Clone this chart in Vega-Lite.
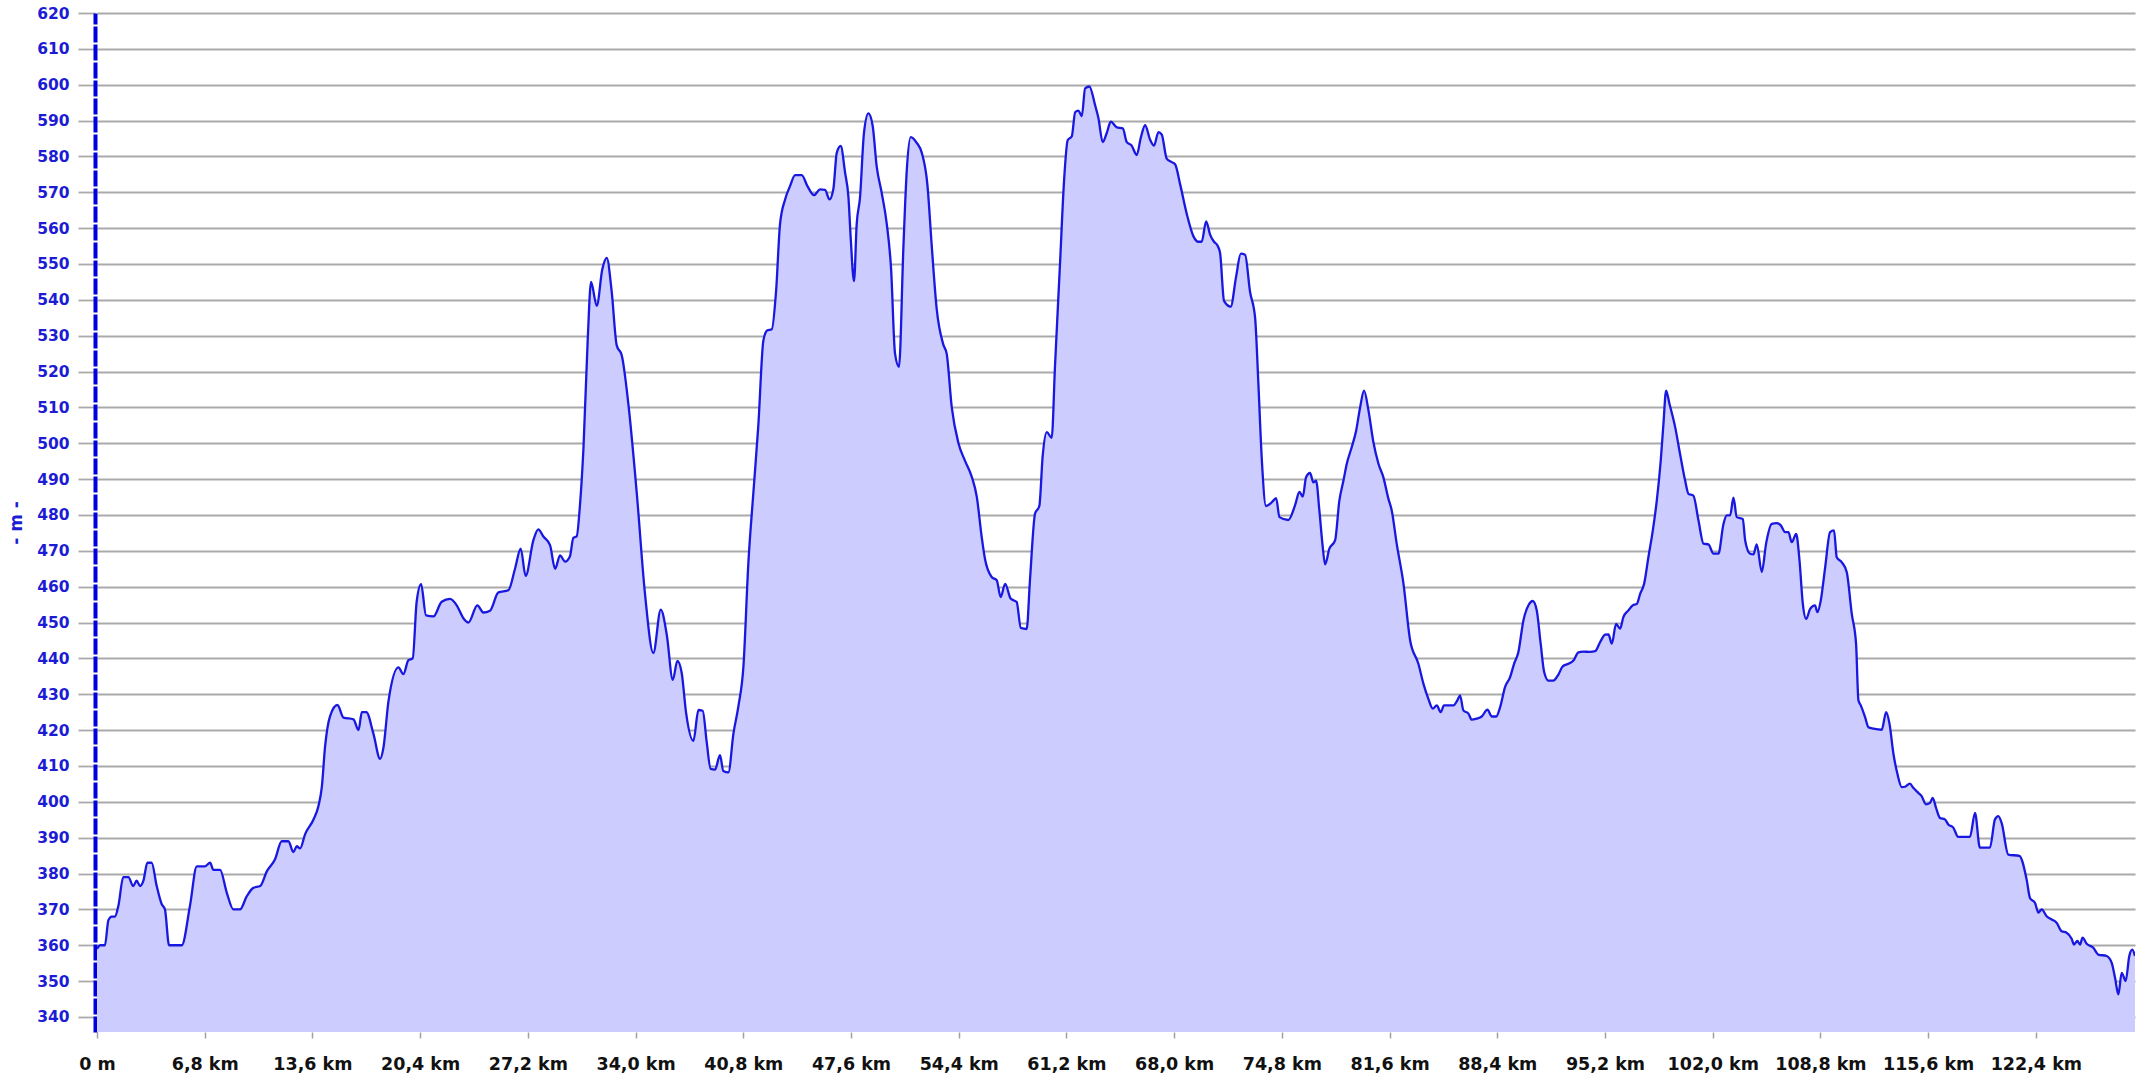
{
  "$schema": "https://vega.github.io/schema/vega-lite/v6.json",
  "autosize": {"type": "none"},
  "padding": {"left": 97, "top": 13, "right": 11, "bottom": 45},
  "width": 2038,
  "height": 1019,
  "background": "#ffffff",
  "config": {"view": {"stroke": null}},
  "data": {"values": [
    {"km":0,"m":359},{"km":0.2,"m":360},{"km":0.5,"m":360},{"km":0.72,"m":367},{"km":0.93,"m":368},{"km":1.14,"m":368},{"km":1.35,"m":371},{"km":1.66,"m":379},{"km":1.98,"m":379},{"km":2.29,"m":376.5},{"km":2.5,"m":378},{"km":2.72,"m":376.5},{"km":2.93,"m":378},{"km":3.18,"m":383},{"km":3.45,"m":383},{"km":3.77,"m":376.5},{"km":4.08,"m":371.5},{"km":4.29,"m":370},{"km":4.55,"m":360},{"km":5.35,"m":360},{"km":5.87,"m":371},{"km":6.3,"m":382},{"km":6.82,"m":382},{"km":7.14,"m":383},{"km":7.35,"m":381},{"km":7.77,"m":381},{"km":8.19,"m":374.7},{"km":8.61,"m":370},{"km":9.03,"m":370},{"km":9.45,"m":373.6},{"km":9.87,"m":376},{"km":10.3,"m":376.5},{"km":10.72,"m":380.6},{"km":11.24,"m":384},{"km":11.66,"m":389},{"km":12.08,"m":389},{"km":12.4,"m":386},{"km":12.61,"m":387.6},{"km":12.82,"m":387},{"km":13.14,"m":391},{"km":13.66,"m":395},{"km":13.98,"m":398.8},{"km":14.19,"m":404},{"km":14.4,"m":415.5},{"km":14.72,"m":424},{"km":15.18,"m":427},{"km":15.56,"m":423.5},{"km":16.19,"m":423},{"km":16.51,"m":420},{"km":16.72,"m":425},{"km":17.0,"m":425},{"km":17.45,"m":419},{"km":17.87,"m":412},{"km":18.08,"m":415},{"km":18.4,"m":428},{"km":19.03,"m":437.5},{"km":19.34,"m":435.6},{"km":19.66,"m":439.5},
    {"km":19.93,"m":440},{"km":20.18,"m":455.8},{"km":20.46,"m":460.7},{"km":20.77,"m":452},{"km":21.24,"m":451.7},{"km":21.76,"m":455.8},{"km":22.29,"m":456.6},{"km":22.71,"m":454.8},{"km":23.13,"m":451.2},{"km":23.45,"m":450},{"km":24.01,"m":454.8},{"km":24.39,"m":452.8},{"km":24.81,"m":453.3},{"km":25.34,"m":458.4},{"km":25.97,"m":459},{"km":26.39,"m":465},{"km":26.75,"m":470.6},{"km":27.06,"m":463},{"km":27.55,"m":473},{"km":27.86,"m":476},{"km":28.18,"m":474},{"km":28.6,"m":471.6},{"km":28.92,"m":465},{"km":29.23,"m":468.7},{"km":29.55,"m":467},{"km":29.86,"m":468.5},{"km":30.07,"m":473.6},{"km":30.28,"m":474},{"km":30.5,"m":483.3},{"km":30.71,"m":498.6},{"km":30.98,"m":529},{"km":31.19,"m":545},{"km":31.55,"m":538.3},{"km":31.9,"m":548.5},{"km":32.18,"m":551.7},{"km":32.49,"m":542.4},{"km":32.81,"m":527.3},{"km":33.13,"m":524.5},{"km":33.55,"m":510.8},{"km":34.07,"m":486.4},{"km":34.6,"m":457.8},{"km":35.12,"m":441.5},{"km":35.59,"m":453.6},{"km":35.97,"m":446.6},{"km":36.35,"m":434},{"km":36.64,"m":439.3},{"km":36.91,"m":436},{"km":37.19,"m":424.8},{"km":37.65,"m":417},{"km":37.97,"m":425.6},{"km":38.24,"m":425.4},
    {"km":38.49,"m":416.7},{"km":38.74,"m":409.2},{"km":39.02,"m":409},{"km":39.33,"m":413},{"km":39.54,"m":408.6},{"km":39.86,"m":408.2},{"km":40.18,"m":419.1},{"km":40.49,"m":426.6},{"km":40.81,"m":437.8},{"km":41.12,"m":466.5},{"km":41.44,"m":486.4},{"km":41.75,"m":505},{"km":42.07,"m":528.7},{"km":42.32,"m":531.5},{"km":42.6,"m":531.8},{"km":42.87,"m":542.4},{"km":43.12,"m":561.1},{"km":43.44,"m":568},{"km":43.75,"m":571.7},{"km":44.07,"m":574.8},{"km":44.49,"m":574.8},{"km":44.85,"m":571.7},{"km":45.27,"m":569.2},{"km":45.65,"m":570.8},{"km":45.96,"m":570.7},{"km":46.24,"m":568},{"km":46.49,"m":571},{"km":46.7,"m":581},{"km":46.95,"m":582.9},{"km":47.23,"m":575.4},{"km":47.44,"m":568.6},{"km":47.58,"m":557.4},{"km":47.79,"m":545.2},{"km":47.96,"m":561.1},{"km":48.17,"m":568.6},{"km":48.42,"m":586.6},{"km":48.7,"m":592},{"km":48.97,"m":588.5},{"km":49.22,"m":577.3},{"km":49.54,"m":569.8},{"km":49.86,"m":561.1},{"km":50.13,"m":548.7},{"km":50.38,"m":525},{"km":50.63,"m":521.3},{"km":50.91,"m":554.9},{"km":51.12,"m":576},{"km":51.37,"m":585.4},{"km":51.75,"m":583.8},{"km":52.07,"m":581},{"km":52.42,"m":572.3},{"km":52.7,"m":554.9},{"km":53.01,"m":537.5},{"km":53.43,"m":527.5},{"km":53.64,"m":525},{"km":53.96,"m":510.1},{"km":54.38,"m":500.1},{"km":54.8,"m":495.1},{"km":55.22,"m":490.7},{"km":55.54,"m":485.1},{"km":55.85,"m":473.9},{"km":56.06,"m":467.7},{"km":56.48,"m":462.7},{"km":56.8,"m":461.8},{"km":57.05,"m":457.1},{"km":57.33,"m":460.8},{"km":57.68,"m":456.7},
    {"km":58.06,"m":455.7},{"km":58.32,"m":448.5},{"km":58.69,"m":448.2},{"km":58.9,"m":461.9},{"km":59.22,"m":480.4},{"km":59.49,"m":482.5},{"km":59.7,"m":496.4},{"km":59.96,"m":503.1},{"km":60.27,"m":501.5},{"km":60.48,"m":521.6},{"km":60.8,"m":550.5},{"km":61.05,"m":573.2},{"km":61.28,"m":584.5},{"km":61.54,"m":585.6},{"km":61.75,"m":592.3},{"km":61.96,"m":592.8},{"km":62.17,"m":591.2},{"km":62.38,"m":599},{"km":62.65,"m":599.5},{"km":63.01,"m":594.3},{"km":63.22,"m":590.7},{"km":63.49,"m":584},{"km":63.75,"m":586.6},{"km":64.0,"m":589.7},{"km":64.38,"m":588.1},{"km":64.76,"m":587.8},{"km":65.01,"m":584},{"km":65.32,"m":583},{"km":65.64,"m":580.4},{"km":65.89,"m":585.1},{"km":66.17,"m":588.7},{"km":66.48,"m":584.7},{"km":66.73,"m":583},{"km":67.01,"m":586.8},{"km":67.22,"m":586.1},{"km":67.53,"m":579.4},{"km":67.85,"m":578.4},{"km":68.06,"m":577.8},{"km":68.38,"m":572.2},{"km":68.8,"m":563.9},{"km":69.22,"m":557.7},{"km":69.53,"m":556.2},{"km":69.74,"m":556.2},{"km":70.02,"m":561.9},{"km":70.27,"m":558.2},{"km":70.52,"m":556.2},{"km":70.73,"m":555.2},{"km":70.9,"m":553.1},{"km":71.15,"m":539.7},{"km":71.57,"m":538.1},{"km":71.91,"m":546.4},{"km":72.21,"m":552.9},{"km":72.48,"m":552.6},{"km":72.79,"m":542.3},{"km":73.11,"m":535.1},{"km":73.32,"m":516.5},{"km":73.53,"m":495.9},{"km":73.8,"m":482.5},{"km":74.16,"m":483.5},{"km":74.44,"m":484.7},{"km":74.65,"m":479.4},{"km":75.21,"m":478.6},{"km":75.64,"m":482.8},
    {"km":75.91,"m":486.4},{"km":76.12,"m":485.1},{"km":76.33,"m":490.5},{"km":76.58,"m":491.7},{"km":76.79,"m":489.1},{"km":76.96,"m":489.6},{"km":77.17,"m":481.2},{"km":77.36,"m":472},{"km":77.53,"m":466.2},{"km":77.8,"m":470.6},{"km":78.16,"m":472.9},{"km":78.43,"m":484},{"km":78.69,"m":489.6},{"km":78.9,"m":494.3},{"km":79.21,"m":498.9},{"km":79.49,"m":503.5},{"km":79.74,"m":510},{"km":79.99,"m":514.7},{"km":80.27,"m":509.1},{"km":80.58,"m":500.3},{"km":80.9,"m":494.3},{"km":81.21,"m":490.5},{"km":81.53,"m":484.5},{"km":81.74,"m":481.2},{"km":82.05,"m":472},{"km":82.48,"m":460.8},{"km":82.9,"m":445},{"km":83.42,"m":438.5},{"km":83.74,"m":432.9},{"km":84.05,"m":428.7},{"km":84.33,"m":426},{"km":84.58,"m":426.9},{"km":84.83,"m":425},{"km":85.04,"m":426.9},{"km":85.63,"m":426.9},{"km":85.88,"m":428.3},{"km":86.05,"m":429.7},{"km":86.26,"m":425.5},{"km":86.58,"m":424.6},{"km":86.79,"m":422.9},{"km":87.1,"m":423.2},{"km":87.42,"m":423.8},{"km":87.78,"m":425.7},{"km":88.05,"m":423.8},{"km":88.33,"m":423.8},{"km":88.58,"m":426.4},{"km":88.89,"m":432},{"km":89.21,"m":434.8},{"km":89.46,"m":438.5},{"km":89.73,"m":441.7},{"km":90.05,"m":450.6},{"km":90.37,"m":454.8},{"km":90.64,"m":456},{"km":90.89,"m":453.4},{"km":91.14,"m":444.1},{"km":91.36,"m":436.2},{"km":91.63,"m":433.8},{"km":91.94,"m":433.8},{"km":92.26,"m":435.5},{"km":92.53,"m":437.8},{"km":92.89,"m":438.5},{"km":93.21,"m":439.4},{"km":93.52,"m":441.7},{"km":93.84,"m":441.9},{"km":94.26,"m":441.8},
    {"km":94.58,"m":442},{"km":94.89,"m":444.5},{"km":95.21,"m":446.6},{"km":95.42,"m":446.7},{"km":95.63,"m":444.1},{"km":95.9,"m":449.6},{"km":96.15,"m":448.3},{"km":96.36,"m":451.5},{"km":96.68,"m":453.4},{"km":96.95,"m":454.8},{"km":97.21,"m":455.2},{"km":97.42,"m":458},{"km":97.67,"m":460.8},{"km":97.94,"m":468.2},{"km":98.22,"m":475.7},{"km":98.47,"m":484},{"km":98.72,"m":495.2},{"km":98.89,"m":505.4},{"km":99.06,"m":514.7},{"km":99.27,"m":511},{"km":99.63,"m":504.5},{"km":99.94,"m":497},{"km":100.26,"m":489.6},{"km":100.47,"m":485.9},{"km":100.78,"m":485.4},{"km":101.1,"m":478.5},{"km":101.42,"m":472},{"km":101.73,"m":471.8},{"km":102.05,"m":469.2},{"km":102.36,"m":469.2},{"km":102.68,"m":477.5},{"km":102.89,"m":479.9},{"km":103.1,"m":479.9},{"km":103.31,"m":484.8},{"km":103.52,"m":479.4},{"km":103.9,"m":478.9},{"km":104.05,"m":472.9},{"km":104.36,"m":469.2},{"km":104.57,"m":469},{"km":104.78,"m":471.8},{"km":105.1,"m":464.1},{"km":105.37,"m":472},{"km":105.73,"m":477.5},{"km":106.04,"m":477.7},{"km":106.3,"m":477.1},{"km":106.57,"m":475.2},{"km":106.78,"m":475.2},{"km":106.99,"m":472.4},{"km":107.27,"m":474.7},{"km":107.48,"m":467.3},{"km":107.69,"m":455.2},{"km":107.9,"m":451},{"km":108.15,"m":453.8},{"km":108.46,"m":454.8},{"km":108.61,"m":452.9},{"km":108.82,"m":456.1},{"km":109.1,"m":465.4},{"km":109.41,"m":475.2},{"km":109.66,"m":475.7},{"km":109.83,"m":468.2},{"km":110.15,"m":466.8},{"km":110.46,"m":464.1},{"km":110.78,"m":452.4},{"km":111.05,"m":444.1},{"km":111.2,"m":428.3},{"km":111.35,"m":426.9},{"km":111.62,"m":423.6},{"km":111.83,"m":420.8},{"km":112.15,"m":420.4},{"km":112.67,"m":420.1},{"km":112.95,"m":425},{"km":113.16,"m":421.8},{"km":113.41,"m":413.4},{"km":113.66,"m":407.8},{"km":113.94,"m":404.1},
    {"km":114.14,"m":404.2},{"km":114.45,"m":405.1},{"km":114.66,"m":403.9},{"km":114.98,"m":402.5},{"km":115.19,"m":401.6},{"km":115.46,"m":399.3},{"km":115.72,"m":399.7},{"km":115.89,"m":401.1},{"km":116.1,"m":398.3},{"km":116.35,"m":395.5},{"km":116.66,"m":395.1},{"km":116.87,"m":393.7},{"km":117.19,"m":392.8},{"km":117.5,"m":390.2},{"km":118.24,"m":390.2},{"km":118.56,"m":396.9},{"km":118.87,"m":387.2},{"km":119.5,"m":387.2},{"km":119.82,"m":395.1},{"km":120.03,"m":396},{"km":120.24,"m":394.1},{"km":120.66,"m":385.3},{"km":121.36,"m":384.9},{"km":121.82,"m":378.3},{"km":122.03,"m":373.2},{"km":122.35,"m":371.8},{"km":122.56,"m":369.1},{"km":122.77,"m":370},{"km":123.08,"m":368.1},{"km":123.4,"m":367.2},{"km":123.71,"m":366.3},{"km":124.03,"m":363.9},{"km":124.34,"m":363.5},{"km":124.66,"m":361.8},{"km":124.81,"m":360.2},{"km":125.02,"m":361.2},{"km":125.19,"m":360.2},{"km":125.35,"m":362.1},{"km":125.61,"m":360.4},{"km":126.03,"m":359.3},{"km":126.34,"m":357.4},{"km":126.87,"m":357},{"km":127.19,"m":355.1},{"km":127.4,"m":350.9},{"km":127.61,"m":346.3},{"km":127.82,"m":352.3},{"km":128.07,"m":350},{"km":128.3,"m":357},{"km":128.49,"m":358.8},{"km":128.66,"m":357}
  ]},
  "mark": {
    "type": "area",
    "color": "#ccccff",
    "opacity": 1,
    "interpolate": "monotone",
    "clip": true,
    "line": {"color": "#1818e0", "strokeWidth": 2.3}
  },
  "encoding": {
    "x": {
      "field": "km",
      "type": "quantitative",
      "scale": {"domain": [0, 128.66], "nice": false, "zero": false},
      "axis": {
        "title": null,
        "values": [0, 6.8, 13.6, 20.4, 27.2, 34, 40.8, 47.6, 54.4, 61.2, 68, 74.8, 81.6, 88.4, 95.2, 102, 108.8, 115.6, 122.4],
        "labelExpr": "datum.value == 0 ? '0 m' : replace(format(datum.value, '.1f'), '.', ',') + ' km'",
        "grid": false,
        "domain": false,
        "ticks": true,
        "tickColor": "#a0a0a0",
        "tickSize": 6,
        "tickWidth": 1.5,
        "labelFont": "DejaVu Sans",
        "labelFontWeight": "bold",
        "labelFontSize": 17.5,
        "labelColor": "#111111",
        "labelPadding": 17,
        "labelFlush": false,
        "labelOverlap": false
      }
    },
    "y": {
      "field": "m",
      "type": "quantitative",
      "scale": {"domain": [335.8, 620], "nice": false, "zero": false},
      "axis": {
        "title": "- m -",
        "titleFont": "DejaVu Sans",
        "titleFontSize": 17,
        "titleFontWeight": "bold",
        "titleColor": "#1c1cd4",
        "titlePadding": 11,
        "values": [340, 350, 360, 370, 380, 390, 400, 410, 420, 430, 440, 450, 460, 470, 480, 490, 500, 510, 520, 530, 540, 550, 560, 570, 580, 590, 600, 610, 620],
        "grid": true,
        "gridColor": "#aaaaaa",
        "gridWidth": 1.8,
        "ticks": true,
        "tickColor": "#aaaaaa",
        "tickWidth": 1.8,
        "tickSize": 17,
        "domain": true,
        "domainColor": "#0000dd",
        "domainWidth": 4,
        "domainDash": [16, 2],
        "offset": 2,
        "labelFont": "DejaVu Sans",
        "labelFontWeight": "bold",
        "labelFontSize": 15.5,
        "labelColor": "#1c1cd4",
        "labelPadding": 9,
        "labelFlush": false,
        "labelOverlap": false
      }
    }
  }
}
